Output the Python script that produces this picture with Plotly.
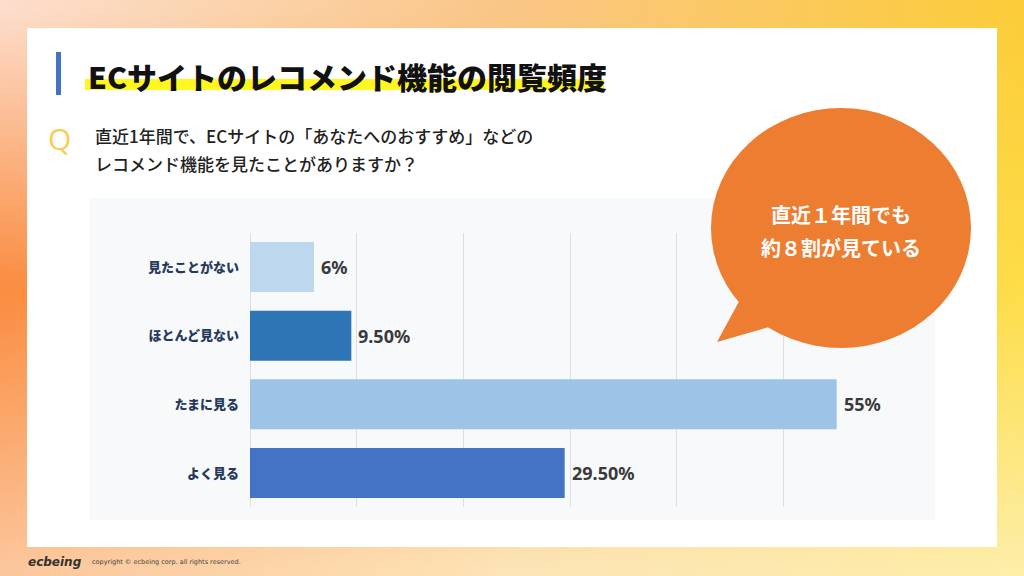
import base64, struct, zlib
import plotly.graph_objects as go

# ---------------- data ----------------
categories = ["見たことがない", "ほとんど見ない", "たまに見る", "よく見る"]
values = [6, 9.5, 55, 29.5]
value_labels = ["6%", "9.50%", "55%", "29.50%"]
bar_colors = ["#bdd7ee", "#2e75b6", "#9dc3e6", "#4472c4"]
x_ticks = [0, 10, 20, 30, 40, 50, 60]

title_text = "ECサイトのレコメンド機能の閲覧頻度"
question_lines = ["直近1年間で、ECサイトの「あなたへのおすすめ」などの",
                  "レコメンド機能を見たことがありますか？"]
bubble_lines = ["直近１年間でも", "約８割が見ている"]
logo_text = "ecbeing"
copyright_text = "copyright © ecbeing corp. all rights reserved."

W, H = 1024, 576
JP = "Noto Sans CJK JP"


def px(x):
    return x / W


def py(y):
    return 1 - y / H


# ---------------- background gradient as small PNG ----------------
ctrl = [
    [(252, 222, 204), (250, 198, 134), (252, 204, 58)],
    [(250, 140, 64), (251, 184, 96), (253, 222, 72)],
    [(252, 198, 156), (253, 228, 182), (253, 238, 168)],
]


def lerp(a, b, t):
    return tuple(a[i] + (b[i] - a[i]) * t for i in range(3))


def grad(fx, fy):
    gx = fx * 2
    gy = fy * 2
    ix = min(int(gx), 1)
    iy = min(int(gy), 1)
    tx = gx - ix
    ty = gy - iy
    top = lerp(ctrl[iy][ix], ctrl[iy][ix + 1], tx)
    bot = lerp(ctrl[iy + 1][ix], ctrl[iy + 1][ix + 1], tx)
    c = lerp(top, bot, ty)
    return [int(round(v)) for v in c]


def make_png(w, h):
    raw = b""
    for j in range(h):
        row = bytearray([0])
        for i in range(w):
            row.extend(grad(i / (w - 1), j / (h - 1)))
        raw += bytes(row)

    def chunk(tag, data):
        return (struct.pack(">I", len(data)) + tag + data +
                struct.pack(">I", zlib.crc32(tag + data) & 0xffffffff))

    png = b"\x89PNG\r\n\x1a\n"
    png += chunk(b"IHDR", struct.pack(">IIBBBBB", w, h, 8, 2, 0, 0, 0))
    png += chunk(b"IDAT", zlib.compress(raw, 9))
    png += chunk(b"IEND", b"")
    return "data:image/png;base64," + base64.b64encode(png).decode()


bg_src = make_png(64, 36)

# ---------------- figure ----------------
fig = go.Figure()
fig.add_trace(go.Bar(
    x=values, y=categories, orientation="h",
    marker=dict(color=bar_colors, line=dict(width=0)),
    hoverinfo="skip",
))

shapes = []
# white card
shapes.append(dict(type="rect", xref="paper", yref="paper", layer="below",
                   x0=px(27), x1=px(997), y0=py(547), y1=py(28),
                   fillcolor="#ffffff", line=dict(width=0)))
# chart panel
shapes.append(dict(type="rect", xref="paper", yref="paper", layer="below",
                   x0=px(90), x1=px(935), y0=py(520), y1=py(198),
                   fillcolor="#f7f9fb", line=dict(width=0)))
# title accent bar
shapes.append(dict(type="rect", xref="paper", yref="paper", layer="below",
                   x0=px(56), x1=px(61), y0=py(95), y1=py(52),
                   fillcolor="#4472c4", line=dict(width=0)))
# title highlight
shapes.append(dict(type="rect", xref="paper", yref="paper", layer="below",
                   x0=px(85), x1=px(604), y0=py(90), y1=py(79),
                   fillcolor="#fff71f", line=dict(width=0)))
# speech bubble
shapes.append(dict(type="circle", xref="paper", yref="paper", layer="above",
                   x0=px(711), x1=px(971), y0=py(348), y1=py(108),
                   fillcolor="#ed7d31", line=dict(width=0)))
tail = "M {},{} L {},{} L {},{} Z".format(px(742), py(296), px(717), py(342), px(776), py(325))
shapes.append(dict(type="path", xref="paper", yref="paper", layer="above",
                   path=tail, fillcolor="#ed7d31", line=dict(width=0)))

annotations = []
# value labels next to bars
for cat, val, lab in zip(categories, values, value_labels):
    annotations.append(dict(text=lab, x=val, y=cat, xref="x", yref="y",
                            xanchor="left", yanchor="middle", xshift=5, showarrow=False,
                            font=dict(family="Noto Sans", size=18, color="#3a3a3a", weight="bold")))
annotations.append(dict(text=title_text, x=px(86), y=py(76), xref="paper", yref="paper",
                        xanchor="left", yanchor="middle", showarrow=False,
                        font=dict(family=JP, size=30, color="#111111", weight=900)))
annotations.append(dict(text="Q", x=px(46), y=py(138), xref="paper", yref="paper",
                        xanchor="left", yanchor="middle", showarrow=False,
                        font=dict(family="Open Sans", size=30, color="#f8cd55", weight=400)))
for i, line in enumerate(question_lines):
    annotations.append(dict(text=line, x=px(93), y=py(135 + 28 * i), xref="paper", yref="paper",
                            xanchor="left", yanchor="middle", showarrow=False,
                            font=dict(family=JP, size=17, color="#222222", weight=500)))
for i, line in enumerate(bubble_lines):
    annotations.append(dict(text=line, x=px(841), y=py(215 + 32 * i), xref="paper", yref="paper",
                            xanchor="center", yanchor="middle", showarrow=False,
                            font=dict(family=JP, size=20, color="#ffffff", weight="bold")))
annotations.append(dict(text=logo_text, x=px(26), y=py(562), xref="paper", yref="paper",
                        xanchor="left", yanchor="middle", showarrow=False,
                        font=dict(family="DejaVu Sans", size=12, color="#333333",
                                  weight="bold", style="italic")))
annotations.append(dict(text=copyright_text, x=px(90), y=py(562), xref="paper", yref="paper",
                        xanchor="left", yanchor="middle", showarrow=False,
                        font=dict(family="DejaVu Sans", size=6.5, color="#444444")))

fig.update_layout(
    width=W, height=H,
    margin=dict(l=0, r=0, t=0, b=0),
    paper_bgcolor="#fbd28a",
    plot_bgcolor="rgba(0,0,0,0)",
    showlegend=False,
    bargap=0.272,
    shapes=shapes,
    annotations=annotations,
    images=[dict(source=bg_src, xref="paper", yref="paper", x=0, y=1,
                 sizex=1, sizey=1, sizing="stretch", xanchor="left", yanchor="top",
                 layer="below")],
    xaxis=dict(domain=[px(250), px(890)], range=[0, 60], tickvals=x_ticks,
               showticklabels=False, showgrid=True, gridcolor="#dedede", gridwidth=1,
               zeroline=True, zerolinecolor="#dedede", zerolinewidth=1,
               showline=False, fixedrange=True),
    yaxis=dict(domain=[py(507.4), py(232.6)], autorange="reversed",
               showgrid=False, zeroline=False, showline=False, ticks="",
               ticklabelstandoff=10,
               tickfont=dict(family=JP, size=13, color="#26395a", weight=900),
               fixedrange=True),
)

fig.write_html("out.html")
